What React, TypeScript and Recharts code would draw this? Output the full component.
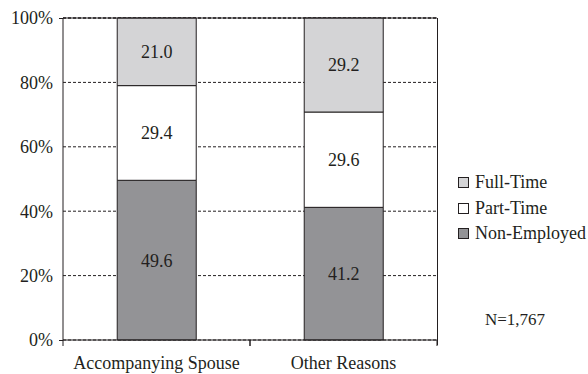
import { Bar, BarChart, CartesianGrid, LabelList, ReferenceLine, XAxis, YAxis } from "recharts"

// Values
const categories = ["Accompanying Spouse", "Other Reasons"]
const nonEmployed = [49.6, 41.2]
const partTime = [29.4, 29.6]
const fullTime = [21.0, 29.2]
const yTicks = [0, 20, 40, 60, 80, 100]

const chartData = categories.map((name, i) => ({
  name,
  nonEmployed: nonEmployed[i],
  partTime: partTime[i],
  fullTime: fullTime[i],
}))

const legendItems = [
  { label: "Full-Time", color: "#d4d4d6" },
  { label: "Part-Time", color: "#ffffff" },
  { label: "Non-Employed", color: "#939396" },
]

const font = "Liberation Serif"
const ink = "#231f20"
const labelStyle = { fontFamily: font, fontSize: 18, fill: ink }

function CategoryTick({ x, y, payload }: any) {
  const half = payload.offset || 0
  return (
    <g>
      <line x1={x - half} x2={x - half} y1={y - 8} y2={y - 2} stroke={ink} />
      <line x1={x + half} x2={x + half} y1={y - 8} y2={y - 2} stroke={ink} />
      <text x={x} y={y + 8} dy="0.71em" textAnchor="middle" style={labelStyle}>
        {payload.value}
      </text>
    </g>
  )
}

export default function App() {
  return (
    <div style={{ position: "absolute", left: 0, top: 0, width: 588, height: 374, background: "#fff", fontFamily: font }}>
      <BarChart
        width={588}
        height={374}
        data={chartData}
        margin={{ top: 18, right: 151, left: 0, bottom: 4 }}
        barCategoryGap="29%"
        style={{ fontFamily: font }}
      >
        <CartesianGrid vertical={false} stroke={ink} strokeDasharray="3 2" />
        <XAxis dataKey="name" height={30} stroke={ink} tickLine={false} tickSize={6} tick={<CategoryTick />} interval={0} />
        <YAxis
          width={63}
          domain={[0, 100]}
          ticks={yTicks}
          tickFormatter={(v) => `${v}%`}
          tickLine={false}
          tickSize={6}
          tickMargin={4}
          stroke={ink}
          tick={labelStyle}
        />
        <ReferenceLine y={100} stroke={ink} />
        <Bar dataKey="nonEmployed" stackId="a" fill="#939396" stroke={ink} isAnimationActive={false}>
          <LabelList dataKey="nonEmployed" position="center" formatter={(v: any) => Number(v).toFixed(1)} style={labelStyle} />
        </Bar>
        <Bar dataKey="partTime" stackId="a" fill="#ffffff" stroke={ink} isAnimationActive={false}>
          <LabelList dataKey="partTime" position="center" formatter={(v: any) => Number(v).toFixed(1)} style={labelStyle} />
        </Bar>
        <Bar dataKey="fullTime" stackId="a" fill="#d4d4d6" stroke={ink} isAnimationActive={false}>
          <LabelList dataKey="fullTime" position="center" formatter={(v: any) => Number(v).toFixed(1)} style={labelStyle} />
        </Bar>
      </BarChart>
      {/* right frame edge of the plot area */}
      <div style={{ position: "absolute", left: 437, top: 18, width: 1, height: 327, background: ink }} />
      {/* small y-axis ticks at 0% and 100% */}
      <div style={{ position: "absolute", left: 59, top: 18, width: 4, height: 1, background: ink }} />
      <div style={{ position: "absolute", left: 59, top: 340, width: 4, height: 1, background: ink }} />
      <div style={{ position: "absolute", left: 458, top: 170, fontSize: 18, color: ink }}>
        {legendItems.map((item) => (
          <div key={item.label} style={{ display: "flex", alignItems: "center", height: 25.5 }}>
            <span
              style={{
                display: "inline-block",
                width: 9,
                height: 9,
                background: item.color,
                border: `1px solid ${ink}`,
                marginRight: 6,
              }}
            />
            {item.label}
          </div>
        ))}
      </div>
      <div style={{ position: "absolute", left: 485, top: 310, fontSize: 17, color: ink }}>
        N=1,767
      </div>
    </div>
  )
}
